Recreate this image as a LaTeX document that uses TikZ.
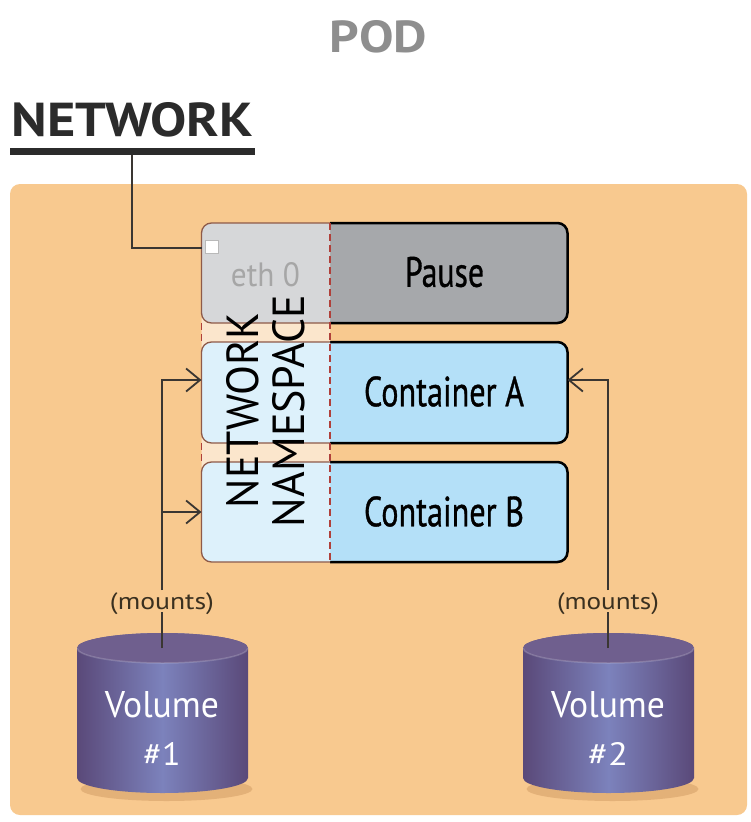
\documentclass[tikz,border=0pt]{standalone}
\usepackage{fontspec}
\setmainfont{PT Sans}
\newfontfamily\medfont{PT Sans}[FakeBold=0.9]
\usetikzlibrary{arrows.meta}
\definecolor{podorange}{HTML}{F8C98F}
\definecolor{pausegray}{HTML}{A6A8AB}
\definecolor{contblue}{HTML}{B4E0F8}
\definecolor{linegray}{HTML}{3A3632}
\definecolor{nsred}{HTML}{B0403A}
\definecolor{nsbrown}{HTML}{8E5A48}
\definecolor{podgray}{HTML}{8E8E8E}
\definecolor{netdark}{HTML}{2B2B2B}
\definecolor{ethgray}{HTML}{A6A6A6}
\definecolor{mountcol}{HTML}{3A3020}
\definecolor{cyldark}{HTML}{5A4979}
\definecolor{cyllight}{HTML}{7C82BC}
\definecolor{cyltop}{HTML}{6F5F8E}
\definecolor{cylshadow}{HTML}{D39E66}
\begin{document}
\begin{tikzpicture}[x=1pt,y=-1pt,
  boxfill/.style={rectangle, inner sep=0pt, outer sep=0pt},
  lbl/.style={inner sep=0pt, outer sep=0pt},
  conn/.style={draw=linegray, line width=1.8pt},
  arr/.style={conn, -{Straight Barb[length=14pt,width=23pt]}},
  nsline/.style={draw=nsred, line width=1.8pt, dash pattern=on 7pt off 4pt},
  volcyl/.pic={
    \fill[cylshadow, opacity=0.55] (4,141) ellipse[x radius=86, y radius=12];
    \path[left color=cyldark, right color=cyldark, middle color=cyllight]
      (-85.5,0) -- (-85.5,130) arc[start angle=180, end angle=0, x radius=85.5, y radius=15]
      -- (85.5,0) arc[start angle=0, end angle=-180, x radius=85.5, y radius=15] -- cycle;
    \fill[cyltop] (0,0) ellipse[x radius=85.5, y radius=15];
    \draw[white, opacity=0.18, line width=1.5pt] (-85.5,0) arc[start angle=180, end angle=0, x radius=85.5, y radius=15];
  }]
\useasboundingbox (0,0) rectangle (750,822);
\fill[white] (0,0) rectangle (750,822);
% pod background
\fill[podorange, rounded corners=10pt] (10,184) rectangle (747,815);

% titles
\node[lbl, text=podgray] (pod) at (378.5,37) {\resizebox{97pt}{32pt}{\bfseries POD}};
\node[lbl, text=netdark] (network) at (132.5,120) {\resizebox{241pt}{34pt}{\bfseries NETWORK}};
\node[boxfill, fill=netdark, minimum width=245pt, minimum height=7pt] (netbar) at (132.5,151.5) {};

% boxes
\node[boxfill, fill=pausegray, rounded corners=10pt, minimum width=366pt, minimum height=100pt] (pause) at (384.5,273) {};
\node[boxfill, fill=contblue, rounded corners=10pt, minimum width=366pt, minimum height=101pt] (ca) at (384.5,392.5) {};
\node[boxfill, fill=contblue, rounded corners=10pt, minimum width=366pt, minimum height=100pt] (cb) at (384.5,512) {};

\begin{scope}
  \clip (330,200) rectangle (600,600);
  \foreach \n in {pause,ca,cb}
    \draw[line width=2.5pt, rounded corners=10pt] (\n.north west) rectangle (\n.south east);
\end{scope}

% network namespace overlay
\fill[white, opacity=0.55] (330,223) {[rounded corners=10pt] -- (201.5,223) -- (201.5,562)} -- (330,562) -- cycle;
\begin{scope}
  \clip (190,200) rectangle (330,600);
  \foreach \n in {pause,ca,cb}
    \draw[nsbrown, line width=1.3pt, rounded corners=10pt] (\n.north west) rectangle (\n.south east);
\end{scope}
\coordinate (nstop) at (330,223);
\coordinate (nsbot) at (330,562);
\draw[nsline] (nstop) -- (nsbot);
\draw[nsline] (pause.south west) -- (ca.north west);
\draw[nsline] (ca.south west) -- (cb.north west);

% labels
\node[lbl] (pauselbl) at (444.5,272) {\resizebox{79pt}{30pt}{\medfont Pause}};
\node[lbl] (calbl) at (444,391.5) {\resizebox{160pt}{30pt}{\medfont Container A}};
\node[lbl] (cblbl) at (444,511.5) {\resizebox{160pt}{30pt}{\medfont Container B}};
\node[lbl, text=ethgray] (eth) at (265.5,275) {\resizebox{69pt}{24pt}{eth 0}};
\node[lbl, rotate=90] (ns1) at (243,410.5) {\resizebox{195pt}{32pt}{NETWORK}};
\node[lbl, rotate=90] (ns2) at (289,411) {\resizebox{232pt}{32pt}{NAMESPACE}};

% eth port
\node[draw=gray!55, fill=white, line width=1pt, minimum size=13pt, inner sep=0pt] (port) at (212,247) {};

% network connector
\coordinate (netj) at (132,248);
\draw[conn] (netbar.south -| netj) -- (netj) -- (netj -| pause.west);

% mounts labels
\node[lbl, text=mountcol, outer sep=3pt] (m1) at (162,604) {\resizebox*{104pt}{22pt}{(mounts)}};
\node[lbl, text=mountcol, outer sep=3pt] (m2) at (608,604) {\resizebox*{102pt}{22pt}{(mounts)}};

% volumes
\pic at (162.5,648) {volcyl};
\pic at (608.5,648) {volcyl};
\coordinate (v1top) at (162,648);
\coordinate (v2top) at (608,648);
\node[lbl, text=white] (v1a) at (162,705) {\resizebox{114pt}{26pt}{Volume}};
\node[lbl, text=white] (v1b) at (162,754) {\resizebox{37pt}{23pt}{\#1}};
\node[lbl, text=white] (v2a) at (608,705) {\resizebox{114pt}{26pt}{Volume}};
\node[lbl, text=white] (v2b) at (608,754) {\resizebox{40pt}{23pt}{\#2}};

% mount connectors
\coordinate (la) at (162,380);
\coordinate (ra) at (608,380);
\draw[conn] (v1top) -- ([yshift=6pt]m1.south);
\draw[conn] (v2top) -- ([yshift=6pt]m2.south);
\draw[arr] (m1.north) -- (la) -- (la -| ca.west);
\draw[arr] (m1.north |- cb.west) -- (cb.west);
\draw[arr] (m2.north) -- (ra) -- (ra -| ca.east);
\end{tikzpicture}
\end{document}
